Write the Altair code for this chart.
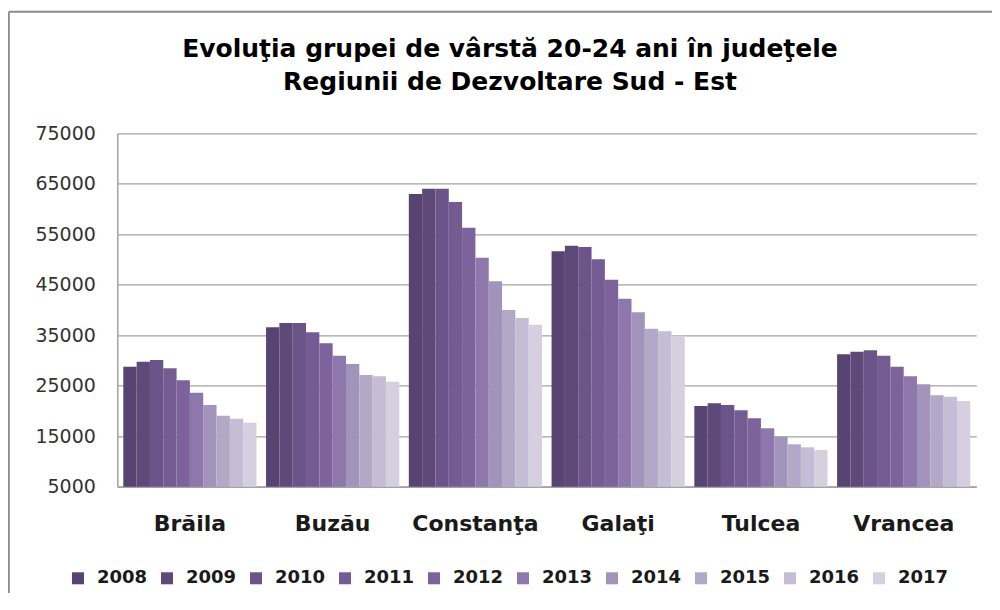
import altair as alt
import pandas as pd

counties = ["Brăila", "Buzău", "Constanţa", "Galaţi", "Tulcea", "Vrancea"]
years = ["2008", "2009", "2010", "2011", "2012", "2013", "2014", "2015", "2016", "2017"]

braila = [28770, 29760, 30100, 28460, 26080, 23620, 21180, 19070, 18470, 17680]
buzau = [36580, 37430, 37430, 35590, 33410, 30950, 29310, 27130, 26870, 25800]
constanta = [62980, 64030, 64030, 61400, 56310, 50370, 45690, 40000, 38420, 37090]
galati = [51630, 52740, 52480, 50050, 46010, 42240, 39550, 36300, 35780, 34910]
tulcea = [20990, 21520, 21180, 20130, 18550, 16570, 14900, 13400, 12800, 12270]
vrancea = [31230, 31740, 32020, 30950, 28770, 26870, 25290, 23110, 22830, 21980]

colors = ["#574470", "#5e4a78", "#6a5489", "#745b92", "#7e629c",
          "#8d77ab", "#a293ba", "#b3a8c7", "#c5bdd6", "#d5cfe0"]
y_ticks = [5000, 15000, 25000, 35000, 45000, 55000, 65000, 75000]
title_lines = ["Evoluţia grupei de vârstă 20-24 ani în judeţele",
               "Regiunii de Dezvoltare Sud - Est"]

rows = []
for c, vals in zip(counties, [braila, buzau, constanta, galati, tulcea, vrancea]):
    for yr, v in zip(years, vals):
        rows.append({"judet": c, "an": yr, "populatie": v})
df = pd.DataFrame(rows)
one = pd.DataFrame({"k": [0]})

W, H = 859, 353.4
GRAY = "#a3a3a3"

bars = alt.Chart(df).mark_bar().encode(
    x=alt.X("judet:N", sort=counties,
            scale=alt.Scale(paddingInner=0.067, paddingOuter=0.042),
            axis=alt.Axis(title=None, labelAngle=0, labelFont="DejaVu Sans",
                          labelFontWeight="bold", labelFontSize=22,
                          labelColor="#1a1a1a", labelPadding=27, ticks=False,
                          domainColor=GRAY, domainWidth=1.5, grid=False)),
    xOffset=alt.XOffset("an:N", sort=years,
                        scale=alt.Scale(paddingInner=0, paddingOuter=0)),
    y=alt.Y("populatie:Q",
            scale=alt.Scale(domain=[5000, 75000], nice=False, zero=False),
            axis=alt.Axis(title=None, values=y_ticks, format="d",
                          labelFont="DejaVu Sans", labelFontSize=19,
                          labelColor="#333333", labelPadding=22, ticks=False,
                          domainColor=GRAY, domainWidth=1.5,
                          gridColor=GRAY, gridWidth=1.3)),
    y2=alt.datum(5000),
    color=alt.Color("an:N", sort=years,
                    scale=alt.Scale(domain=years, range=colors),
                    legend=alt.Legend(title=None, orient="none",
                                      legendX=-48.3, legendY=436,
                                      direction="horizontal", columns=10,
                                      symbolType="square", symbolSize=144,
                                      symbolStrokeWidth=0,
                                      labelFont="DejaVu Sans",
                                      labelFontWeight="bold", labelFontSize=18,
                                      labelColor="#1a1a1a", labelOffset=10,
                                      columnPadding=10, padding=0)),
)

frame_top = alt.Chart(one).mark_rule(color="#8c8c8c", strokeWidth=2).encode(
    x=alt.value(-108.5), x2=alt.value(874.7), y=alt.value(-121.6))
frame_left = alt.Chart(one).mark_rule(color="#8c8c8c", strokeWidth=2).encode(
    x=alt.value(-108.5), y=alt.value(-121.6), y2=alt.value(460))

title = alt.Chart(one).mark_text(
    text=title_lines, font="DejaVu Sans", fontWeight="bold", fontSize=25,
    lineHeight=32.7, align="center", baseline="middle", color="#000000"
).encode(x=alt.value(392.7), y=alt.value(-84))

chart = alt.layer(frame_top, frame_left, title, bars).properties(
    width=W, height=H,
    autosize=alt.AutoSizeParams(type="none"),
    padding={"left": 109.3, "top": 125.3, "right": 15.7, "bottom": 106},
    background="white",
    view=alt.ViewBackground(strokeWidth=0, strokeOpacity=0),
).configure_view(strokeWidth=0, strokeOpacity=0)

chart.save("out.html", embed_options={"renderer": "svg", "actions": False})
